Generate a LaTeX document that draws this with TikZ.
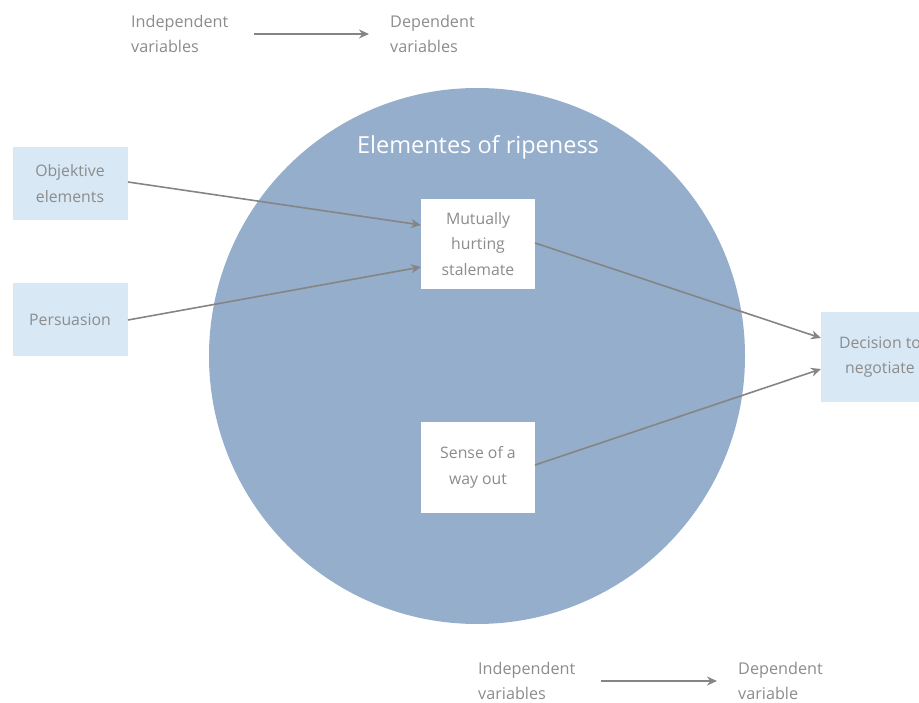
\documentclass[tikz,border=0pt]{standalone}
\usepackage{fontspec}
\setmainfont{Open Sans}
\usetikzlibrary{arrows.meta}
\definecolor{txtgray}{HTML}{8C8C8C}
\definecolor{arrgray}{HTML}{858585}
\definecolor{circblue}{HTML}{94AECB}
\definecolor{boxblue}{HTML}{D8E8F5}
\tikzset{
  lbl/.style={text=txtgray, font=\fontsize{16.2}{25}\selectfont, align=left, inner sep=0pt},
  outbox/.style={fill=boxblue, draw=none, minimum width=115pt, minimum height=73pt, text=txtgray, font=\fontsize{15.8}{25.5}\selectfont, align=center, inner sep=0pt},
  inbox/.style={fill=white, draw=none, minimum width=114pt, minimum height=90pt, text=txtgray, font=\fontsize{15.8}{25.5}\selectfont, align=center, inner sep=0pt},
  conn/.style={draw=arrgray, line width=1.6pt, -{Stealth[length=10pt,width=9pt]}},
}
\begin{document}
\begin{tikzpicture}[x=1pt,y=-1pt]
\useasboundingbox (0,0) rectangle (919,703);
\begin{scope}
\clip (0,0) rectangle (919,703);
% circle
\fill[circblue] (477,356) circle[radius=268];
\node[font=\fontsize{23.5}{25}\selectfont, text=white, inner sep=0pt] (title) at (478,147) {Elementes of ripeness};
% boxes
\node[outbox] (obj) at (70,183.5) {Objektive\\elements};
\node[outbox] (pers) at (70,320) {Persuasion};
\node[inbox] (mhs) at (478,244) {Mutually\\hurting\\stalemate};
\node[inbox] (way) at (478,467.5) {Sense of a\\way out};
\node[outbox, minimum width=118pt, minimum height=90pt] (dec) at (880,357) {Decision to\\negotiate};
% connectors
\coordinate (o1) at (128,182);
\coordinate (o2) at (421,225);
\coordinate (p1) at (128,320);
\coordinate (p2) at (421,267);
\coordinate (m1) at (535,243);
\coordinate (d1) at (821,338);
\coordinate (s1) at (535,465);
\coordinate (d2) at (821,369);
\draw[conn] (o1) -- (o2);
\draw[conn] (p1) -- (p2);
\draw[conn] (m1) -- (d1);
\draw[conn] (s1) -- (d2);
% legends
\node[lbl, anchor=west] (iv1) at (131,34) {Independent\\variables};
\node[lbl, anchor=west] (dv1) at (390,34) {Dependent\\variables};
\coordinate (a1) at (254,34);
\coordinate (a2) at (369,34);
\draw[conn] (a1) -- (a2);
\node[lbl, anchor=west] (iv2) at (478,681) {Independent\\variables};
\node[lbl, anchor=west] (dv2) at (738,681) {Dependent\\variable};
\coordinate (b1) at (601,681);
\coordinate (b2) at (717,681);
\draw[conn] (b1) -- (b2);
\end{scope}
\end{tikzpicture}
\end{document}
